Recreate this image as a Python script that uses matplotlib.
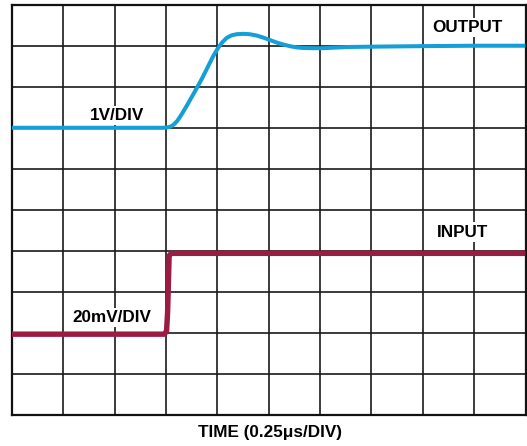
import matplotlib.pyplot as plt

# scope screen: 10 x 10 divisions
N_DIV = 10

# output trace (1V/DIV), in divisions
out_t = [0.0, 2.95, 3.03, 3.09, 3.15, 3.22, 3.30, 3.40, 3.55, 3.70, 3.82, 3.92,
         4.02, 4.10, 4.18, 4.27, 4.37, 4.50, 4.63, 4.76, 4.89, 5.02, 5.15,
         5.28, 5.41, 5.54, 5.67, 5.86, 6.06, 6.30, 6.58, 7.2, 8.0, 9.0, 10.0]
out_v = [7.00, 7.00, 7.01, 7.03, 7.08, 7.17, 7.32, 7.53, 7.86, 8.20, 8.50, 8.75,
         8.96, 9.09, 9.19, 9.25, 9.28, 9.29, 9.28, 9.25, 9.20, 9.14, 9.08,
         9.03, 8.99, 8.96, 8.945, 8.94, 8.94, 8.955, 8.97, 8.98, 8.99, 9.0, 9.0]

# input trace (20mV/DIV)
in_t = [0.0, 2.97, 3.01, 3.03, 3.06, 3.10, 10.0]
in_v = [1.97, 1.97, 2.05, 2.5, 3.88, 3.94, 3.94]

fig = plt.figure(figsize=(5.27, 4.46), dpi=100)
ax = fig.add_axes([12 / 527, 31 / 446, 513.5 / 527, 410.3 / 446])

ax.set_xlim(0, N_DIV)
ax.set_ylim(0, N_DIV)
ax.set_xticks(range(N_DIV + 1))
ax.set_yticks(range(N_DIV + 1))
ax.tick_params(length=0, labelbottom=False, labelleft=False)
ax.grid(True, color="#1a1a1a", linewidth=1.2)
ax.set_axisbelow(True)
for sp in ax.spines.values():
    sp.set_linewidth(1.6)
    sp.set_color("#111111")

ax.plot(out_t, out_v, color="#149fd6", linewidth=2.9,
        solid_joinstyle="round", solid_capstyle="butt", zorder=3)
ax.plot(in_t, in_v, color="#9b1b42", linewidth=3.9,
        solid_joinstyle="round", solid_capstyle="butt", zorder=3)

lbl = dict(fontsize=12.3, fontweight="bold", family="Liberation Sans",
           ha="center", va="center", zorder=4,
           bbox=dict(facecolor="white", edgecolor="none", pad=1.5))
ax.text(2.04, 7.29, "1V/DIV", **lbl)
ax.text(8.86, 9.44, "OUTPUT", **lbl)
ax.text(8.77, 4.46, "INPUT", **lbl)
ax.text(1.95, 2.37, "20mV/DIV", **lbl)

fig.text(269.7 / 527, 1 - 433 / 446, "TIME (0.25\u03bcs/DIV)", fontsize=12.3,
         fontweight="bold", family="Liberation Sans", ha="center", va="center")

fig.savefig("out.png", dpi=100)
